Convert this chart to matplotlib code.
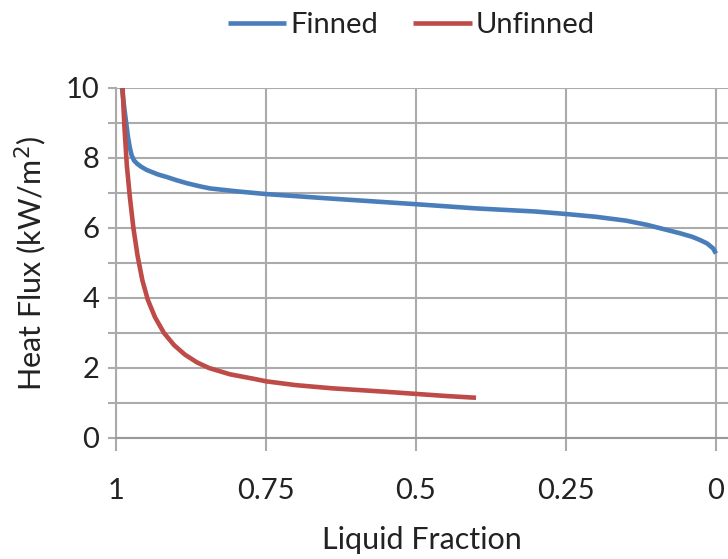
import matplotlib
matplotlib.use("Agg")
import matplotlib.pyplot as plt

# Data
finned_lf = [0.990, 0.986, 0.983, 0.980, 0.977, 0.974, 0.970, 0.965, 0.958, 0.949,
             0.930, 0.916, 0.900, 0.882, 0.860, 0.843, 0.800, 0.750, 0.650, 0.500,
             0.400, 0.300, 0.250, 0.200, 0.150, 0.115, 0.090, 0.060, 0.040, 0.027,
             0.015, 0.005, 0.000]
finned_flux = [10.0, 9.4, 9.0, 8.6, 8.3, 8.08, 7.93, 7.84, 7.75, 7.66,
               7.53, 7.46, 7.37, 7.28, 7.19, 7.13, 7.05, 6.97, 6.85, 6.68,
               6.56, 6.47, 6.40, 6.32, 6.21, 6.09, 5.98, 5.85, 5.75, 5.66,
               5.56, 5.42, 5.27]

unfinned_lf = [0.989, 0.986, 0.982, 0.977, 0.971, 0.964, 0.956, 0.947, 0.935, 0.920,
               0.903, 0.885, 0.865, 0.845, 0.810, 0.770, 0.750, 0.700, 0.640, 0.550,
               0.500, 0.450, 0.400]
unfinned_flux = [10.0, 8.9, 7.8, 6.9, 6.0, 5.2, 4.5, 3.95, 3.45, 3.0,
                 2.65, 2.38, 2.16, 2.0, 1.82, 1.69, 1.62, 1.51, 1.42, 1.32,
                 1.26, 1.20, 1.15]

x_ticks = [1, 0.75, 0.5, 0.25, 0]
x_tick_labels = ["1", "0.75", "0.5", "0.25", "0"]
y_ticks = [0, 2, 4, 6, 8, 10]
y_minor = [1, 3, 5, 7, 9]

plt.rcParams['font.family'] = ['Lato', 'DejaVu Sans']

fig = plt.figure(figsize=(7.28, 5.59), dpi=100)
ax = fig.add_axes([116/728, 1-438/559, 1-116/728, (438-88)/559])

blue = "#4A7EBB"
red = "#BE4B48"
grid_c = "#ABABAB"

ax.plot(finned_lf, finned_flux, color=blue, lw=3.3, label="Finned", solid_capstyle="butt",
        solid_joinstyle="round", zorder=3)
ax.plot(unfinned_lf, unfinned_flux, color=red, lw=3.3, label="Unfinned", solid_capstyle="butt",
        solid_joinstyle="round", zorder=3)

ax.set_xlim(1, -0.02)
ax.set_ylim(0, 10)
ax.set_xticks(x_ticks)
ax.set_xticklabels(x_tick_labels)
ax.set_yticks(y_ticks)
ax.set_yticks(y_minor, minor=True)

ax.grid(True, which="both", color=grid_c, lw=1.5)
ax.set_axisbelow(True)
ax.tick_params(axis="both", which="both", color=grid_c, width=1.5, labelsize=21, colors="#222222")
ax.tick_params(axis="y", which="both", length=6, pad=6)
ax.tick_params(axis="x", which="both", length=9, pad=20)
for lbl in ax.get_xticklabels() + ax.get_yticklabels():
    lbl.set_color("#222222")

for s in ["top", "right"]:
    ax.spines[s].set_visible(False)
ax.spines["left"].set_color(grid_c)
ax.spines["left"].set_linewidth(1.5)
ax.spines["bottom"].set_color("#999999")
ax.spines["bottom"].set_linewidth(1.5)

ax.set_xlabel("Liquid Fraction", fontsize=22, color="#222222", labelpad=16)
ax.set_ylabel("Heat Flux (kW/m$^2$)", fontsize=22, color="#222222", labelpad=12)

fig.legend(loc="center", bbox_to_anchor=(0.565, 0.955), ncol=2, frameon=False,
           fontsize=21, handlelength=2.0, handletextpad=0.15, columnspacing=1.2,
           labelcolor="#222222")

fig.savefig("out.png", dpi=100)
